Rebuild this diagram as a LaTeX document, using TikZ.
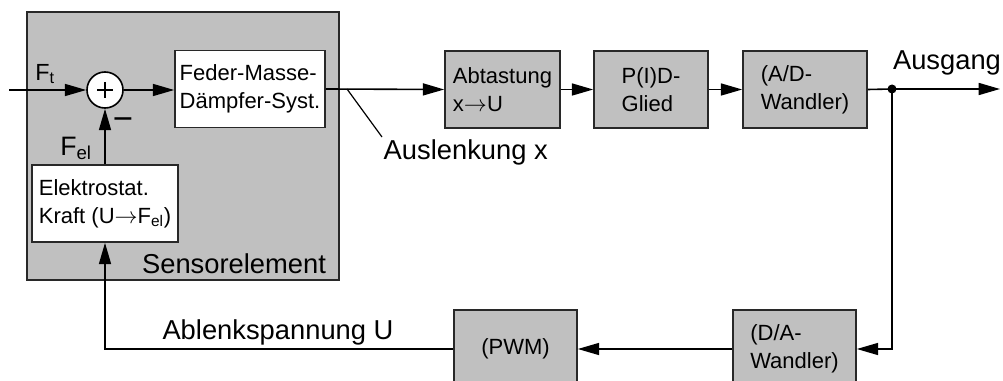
\documentclass[tikz,border=0pt]{standalone}
\usepackage{fontspec}
\setmainfont{Liberation Sans}
\usetikzlibrary{arrows.meta,positioning,calc}
\definecolor{blockgray}{RGB}{192,192,192}
\definecolor{edgegray}{RGB}{40,40,40}
\newcommand{\maparrow}{\ensuremath{\rightarrow}}
\begin{document}
\begin{tikzpicture}[x=0.75pt,y=-0.75pt,
  boxtext/.style={font=\fontsize{16.5}{21}\selectfont},
  bigtext/.style={font=\fontsize{20.5}{24}\selectfont},
  block/.style={draw=edgegray,line width=1.2pt,boxtext,align=left,
                inner sep=0pt,minimum height=77*0.75pt},
  grayblock/.style={block,fill=blockgray},
  whiteblock/.style={block,fill=white},
  sig/.style={line width=1.2pt,-{Triangle[length=16pt,width=9pt]}},
  wire/.style={line width=1.2pt},
]
\useasboundingbox (0,0) rectangle (1003,381);

% sensor element housing
\node[draw=edgegray,fill=blockgray,line width=1.2pt,inner sep=0pt,
      minimum width=312*0.75pt,minimum height=268*0.75pt] (sensor) at (183,146) {};
\node[bigtext] (sensorlabel) at (234,264) {Sensorelement};

% summing junction and blocks inside the sensor
\node[draw,fill=white,circle,line width=1.2pt,minimum size=36*0.75pt,inner sep=0pt] (sum) at (105,90) {};
\draw[line width=1.1pt] (sum.center) ++(-8,0) -- ++(16,0);
\draw[line width=1.1pt] (sum.center) ++(0,-8) -- ++(0,16);
\node[whiteblock,minimum width=150*0.75pt] (feder) at (250,89)
  {Feder-Masse-\\Dämpfer-Syst.};
\node[whiteblock,minimum width=146*0.75pt,minimum height=77*0.75pt] (fel) at (105,203.5)
  {Elektrostat.\\Kraft (U\maparrow F\textsubscript{el})};

% forward path blocks
\node[grayblock,minimum width=115*0.75pt] (abt) at (502.5,89.5) {Abtastung\\x\maparrow U};
\node[grayblock,minimum width=114*0.75pt] (pid) at (651,89.5) {P(I)D-\\Glied};
\node[grayblock,minimum width=124*0.75pt] (ad) at (805,89.5) {(A/D-\\Wandler)};

% feedback path blocks
\node[grayblock,minimum width=123*0.75pt,minimum height=78*0.75pt] (da) at (794.5,349) {(D/A-\\Wandler)};
\node[grayblock,minimum width=123*0.75pt,minimum height=78*0.75pt] (pwm) at (515.5,349) {(PWM)};

% signal labels
\node[font=\fontsize{17.5}{21}\selectfont] (ft) at (45,74) {F\textsubscript{t}};
\node[font=\fontsize{20}{24}\selectfont] (fellabel) at (76,148) {F\textsubscript{el}};
\node[font=\fontsize{26}{30}\selectfont] (minus) at (123,124) {−};
\node[bigtext,anchor=west] (auslenkung) at (379,152) {Auslenkung x};
\node[bigtext] (ausgang) at (947,63) {Ausgang};
\node[bigtext] (ablenk) at (278,332) {Ablenkspannung U};

% connectors
\coordinate (in) at (9,90);
\coordinate (out) at (1000,89);
\coordinate (dot) at (892,89);
\coordinate (tap) at (347,89);
\coordinate (tapend) at (382,137);

\draw[sig] (in) -- (sum.west);
\draw[sig] (sum.east) -- (feder.west |- sum.east);
\draw[sig] (fel.north) -- (sum.south);
\draw[sig] (feder.east) -- (abt.west);
\draw[sig] (abt.east) -- (pid.west);
\draw[sig] (pid.east) -- (ad.west);
\draw[sig] (ad.east) -- (dot) -- (out);
\fill (dot) circle[radius=4.5];
\draw[sig] (dot) |- (da.east);
\draw[sig] (da.west) -- (pwm.east);
\draw[sig] (pwm.west) -| (fel.south);
\draw[line width=0.9pt] (tap) -- (tapend);
\end{tikzpicture}
\end{document}
